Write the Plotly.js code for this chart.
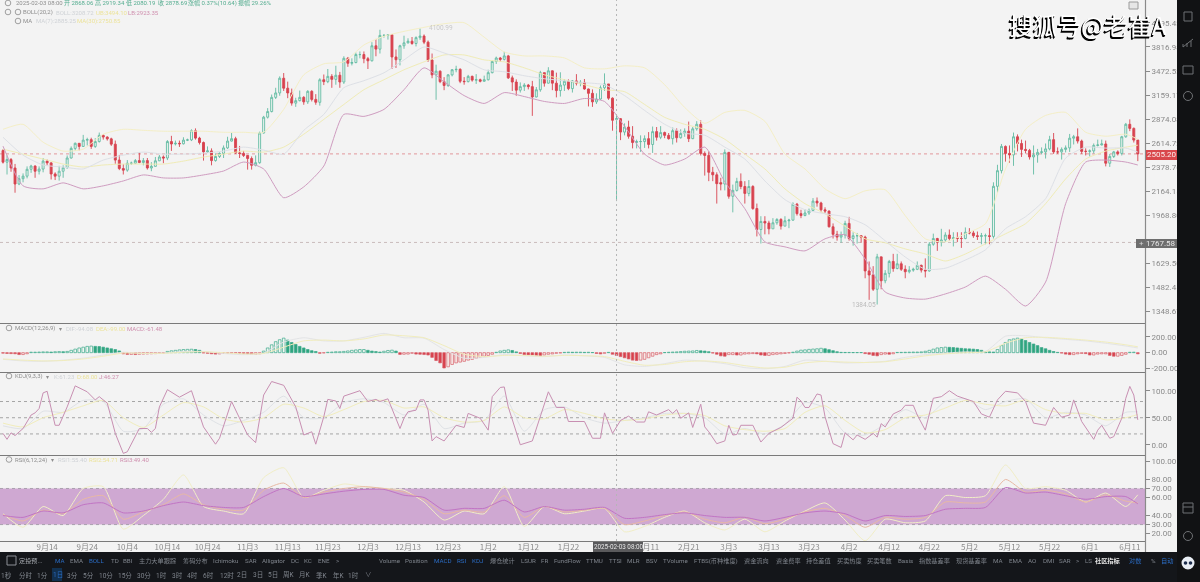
<!DOCTYPE html>
<html><head><meta charset="utf-8">
<script src="https://cdn.plot.ly/plotly-3.0.1.min.js"></script>
<style>html,body{margin:0;padding:0;background:#f3f3f3;overflow:hidden}#c{width:1200px;height:582px;filter:blur(0.3px)}</style>
</head><body><div id="c"></div><script>
const openPrice = [
2538,2425,2450,2370,2225,2272,2295,2358,2388,2340,2360,2435,2418,2315,2295,2340,2372,2465,2560,2612,2580,2645,2650,2580,2630,2695,2677,2658,
2603,2445,2365,2350,2415,2415,2440,2422,2440,2370,2385,2438,2475,2465,2630,2605,2612,2607,2645,2647,2745,2666,2620,2525,2535,2440,2480,2510,2565,2635,2660,
2515,2510,2490,2460,2395,2420,2720,2895,2960,3130,3185,3375,3245,3185,3060,3090,3130,3075,3205,3105,3070,3355,3330,3400,3360,3415,3325,3650,3580,3590,
3705,3705,3645,3615,3835,3785,3995,3995,4005,3670,3630,3835,3880,3905,3870,3960,3985,3890,3625,3420,3470,3330,3280,3420,3490,3495,3335,3330,3400,3350,3355,
3335,3355,3450,3605,3655,3635,3685,3380,3325,3220,3265,3285,3265,3135,3225,3450,3310,3475,3310,3215,3285,3335,3240,3340,3310,3320,3235,3180,3075,3110,3250,
3300,3120,2868.06,2878,2730,2785,2685,2620,2630,2630,2660,2600,2735,2675,2725,2695,2660,2745,2670,2715,2740,2660,2765,2815,2510,2490,2330,2307,
2237,2225,2520,2120,2170,2248,2203,2144,2203,2020,1860,1920,1908,1865,1910,1935,1885,1925,1930,2055,1980,1965,1985,2005,2080,2065,2010,2000,1880,1825,1805,
1820,1905,1795,1815,1815,1805,1580,1555,1470,1670,1520,1565,1640,1595,1625,1590,1575,1585,1590,1615,1585,1580,1755,1795,1770,1785,1820,1795,1800,1795,
1795,1840,1835,1815,1810,1815,1815,1810,2205,2345,2580,2510,2495,2680,2610,2550,2540,2475,2495,2520,2525,2555,2650,2525,2525,2550,2565,2665,2680,2635,2530,
2530,2535,2590,2595,2605,2415,2480,2525,2510,2680,2815,2770,2645];
const highPrice = [
2552,2490,2465,2408,2305,2320,2385,2400,2395,2385,2465,2450,2425,2330,2390,2395,2490,2580,2620,2615,2700,2670,2670,2665,2725,2705,2685,2670,
2640,2495,2405,2445,2430,2455,2520,2465,2465,2425,2475,2495,2490,2645,2690,2640,2640,2675,2660,2760,2770,2680,2630,2580,2560,2510,2520,2590,2680,2720,2680,
2585,2535,2495,2480,2490,2735,2910,3000,3165,3250,3400,3445,3330,3240,3125,3215,3145,3220,3220,3170,3375,3425,3500,3430,3545,3460,3680,3670,3650,3735,
3750,3750,3670,3890,3940,4085,4015,4010,4010,3780,3850,3990,3950,3970,3980,4105,4010,3915,3720,3560,3480,3390,3430,3500,3545,3510,3390,3420,3410,3430,3370,
3410,3490,3620,3675,3670,3745,3700,3410,3360,3320,3310,3300,3340,3260,3475,3450,3525,3480,3450,3455,3360,3360,3350,3430,3350,3365,3240,3230,3180,3280,3440,
3300,3130,2919.34,2885,2825,2855,2795,2650,2695,2695,2730,2790,2785,2795,2735,2720,2780,2770,2760,2770,2845,2785,2850,2860,2530,2530,2380,2330,
2280,2550,2525,2220,2280,2320,2250,2260,2215,2060,1960,1960,1925,1945,1945,1945,1960,1940,2070,2065,2010,2015,2020,2105,2110,2075,2030,2005,1905,1850,1845,
1925,1955,1840,1835,1820,1815,1640,1610,1690,1670,1585,1650,1690,1690,1640,1615,1610,1600,1640,1620,1660,1770,1830,1800,1865,1840,1860,1840,1840,1840,
1875,1870,1855,1845,1835,1830,1870,2240,2400,2605,2590,2590,2725,2705,2650,2640,2555,2590,2555,2570,2610,2690,2720,2570,2570,2590,2710,2700,2770,2650,2560,
2550,2610,2650,2650,2640,2505,2535,2540,2690,2830,2870,2780,2650];
const lowPrice = [
2412,2310,2335,2150,2215,2240,2275,2325,2280,2310,2330,2395,2265,2260,2255,2280,2365,2460,2535,2540,2575,2590,2555,2565,2620,2650,2640,2585,
2410,2350,2310,2335,2400,2410,2415,2395,2355,2340,2385,2435,2415,2445,2535,2590,2575,2600,2635,2635,2650,2600,2440,2515,2395,2430,2465,2465,2555,2630,2505,
2465,2475,2355,2355,2385,2410,2715,2880,2950,3110,3150,3210,3120,3030,3015,3080,3040,3050,3080,3040,3030,3285,3310,3250,3290,3250,3300,3530,3550,3580,
3650,3580,3500,3605,3680,3720,3960,3930,3500,3515,3550,3790,3870,3850,3825,3925,3860,3600,3375,3100,3310,3220,3260,3400,3455,3310,3290,3320,3330,3300,3320,
3330,3345,3440,3570,3600,3620,3365,3210,3150,3190,3210,3230,2910,3130,3200,3265,3305,3220,3130,3140,3210,3220,3190,3280,3270,3225,3020,3015,3050,3100,3210,
3100,2745,2080.19,2645,2695,2660,2560,2560,2525,2565,2560,2515,2640,2655,2665,2650,2600,2620,2660,2680,2625,2655,2745,2490,2300,2250,2250,2060,
2170,2170,2100,1990,2160,2180,2060,2120,2010,1810,1760,1825,1825,1865,1895,1860,1885,1870,1925,1965,1945,1960,1970,2000,2035,1990,1985,1875,1795,1780,1765,
1795,1780,1745,1760,1765,1535,1410,1460,1384.05,1470,1505,1540,1575,1590,1580,1535,1565,1575,1585,1570,1540,1575,1745,1710,1740,1770,1780,1740,1770,1730,
1790,1825,1800,1785,1755,1755,1755,1795,2150,2320,2430,2420,2390,2530,2475,2510,2450,2310,2420,2500,2460,2540,2505,2505,2450,2520,2525,2600,2610,2505,2490,
2480,2510,2580,2590,2385,2380,2465,2490,2490,2670,2740,2620,2435];
const closePrice = [
2425,2450,2370,2225,2272,2295,2358,2388,2340,2360,2435,2418,2315,2295,2340,2372,2465,2560,2612,2580,2645,2650,2580,2630,2695,2677,2658,2603,
2445,2365,2350,2415,2415,2440,2422,2440,2370,2385,2438,2475,2465,2630,2605,2612,2607,2645,2647,2745,2666,2620,2525,2535,2440,2480,2510,2565,2635,2660,2515,
2510,2490,2460,2395,2420,2720,2895,2960,3130,3185,3375,3245,3185,3060,3090,3130,3075,3205,3105,3070,3355,3330,3400,3360,3415,3325,3650,3580,3590,3705,
3705,3645,3615,3835,3785,3995,3995,4005,3670,3630,3835,3880,3905,3870,3960,3985,3890,3625,3420,3470,3330,3280,3420,3490,3495,3335,3330,3400,3350,3355,3335,
3355,3450,3605,3655,3635,3685,3380,3325,3220,3265,3285,3265,3135,3225,3450,3310,3475,3310,3215,3285,3335,3240,3340,3310,3320,3235,3180,3075,3110,3250,3300,
3120,2860,2878.69,2730,2785,2685,2620,2630,2630,2660,2600,2735,2675,2725,2695,2660,2745,2670,2715,2740,2660,2765,2815,2510,2490,2330,2307,2228,
2225,2520,2120,2170,2248,2203,2144,2203,2020,1860,1920,1908,1865,1910,1935,1885,1925,1930,2055,1980,1965,1985,2005,2080,2065,2010,2000,1880,1825,1805,1820,
1905,1795,1815,1815,1805,1580,1555,1470,1670,1520,1565,1640,1595,1625,1590,1575,1585,1590,1615,1585,1580,1755,1795,1770,1785,1820,1795,1800,1795,1795,
1840,1835,1815,1810,1815,1815,1810,2205,2345,2580,2510,2495,2680,2610,2550,2540,2475,2495,2520,2525,2555,2650,2525,2525,2550,2565,2665,2680,2635,2530,2530,
2535,2590,2595,2605,2415,2480,2525,2510,2680,2815,2770,2645,2505.2];
const sampleDays = [0,5,10,15,20,25,30,35,40,45,50,55,60,65,70,75,80,85,90,95,100,105,110,115,120,125,130,135,140,145,150,155,160,165,170,175,180,185,190,195,200,205,210,215,220,225,230,235,240,245,250,255,260,265,270,275,280,283];
const bollUpper = [2760,2815,2623,2533,2553,2707,2760,2749,2739,2739,2739,2728,2728,2728,2985,3421,3572,3600,3847,3982,4059,4124,4183,4200,3967,3743,3685,3685,3656,3516,3502,3544,3516,3290,3008,2826,2950,2973,2848,2503,2361,2183,2100,2166,2175,1964,1793,1772,1829,1903,2361,2760,2915,2950,2728,2686,2707,2654];
const bollMid = [2675,2493,2398,2379,2361,2445,2493,2523,2503,2503,2513,2533,2573,2543,2503,2749,2927,3252,3342,3448,3628,3817,3728,3628,3489,3462,3408,3368,3342,3316,3290,3152,2973,2815,2717,2696,2573,2455,2252,2092,2011,1979,1956,1895,1779,1669,1591,1597,1649,1717,1866,1956,2100,2464,2573,2563,2563,2523];
const bollLower = [2583,2209,2183,2235,2183,2209,2252,2306,2279,2279,2306,2342,2426,2361,2108,2200,2388,2927,2904,2985,3226,3516,3329,3152,3056,3189,3140,3080,3056,3116,3080,2793,2503,2398,2455,2573,2244,2019,1772,1737,1710,1793,1822,1656,1454,1420,1414,1443,1483,1548,1470,1376,1512,2059,2426,2445,2426,2398];
const ma30 = [2553,2503,2455,2407,2379,2398,2407,2407,2407,2435,2474,2503,2533,2523,2573,2707,2870,3044,3226,3355,3489,3600,3699,3699,3628,3600,3516,3421,3355,3290,3226,3201,3044,2893,2815,2760,2654,2503,2361,2183,2059,1979,1884,1793,1765,1723,1689,1643,1689,1758,1829,1903,2059,2270,2455,2533,2573,2593];
const macdHist = [
-6,-10,-12,-14,-24,-24,-14,6,6,8, 10,10,8,12,14,12,16,30,45,60, 70,80,84,80,78,70,60,50,40,22,
-15,-22,-22,-24,-20,-18,-16,-14,-12,-10, -6,16,24,30,36,40,42,44,40,30, -4,-8,-14,-18,-16,-10,-6,-4,-4,-8,
-12,-16,-20,-20,-14,20,60,100,140,165, 185,160,130,105,80,60,40,25,15,-8, -4,5,8,12,12,16,22,30,35,40,
40,30,20,14,8,18,28,32,20,-22, -20,-18,-8,-18,-20,-24,-30,-60,-100,-130, -195,-180,-150,-130,-120,-110,-95,-85,-70,-60,
-45,-35,-20,5,22,30,36,28,10,-10, -25,-28,-30,-35,-42,-30,-20,-16,-8,-4, 4,6,5,6,6,4,5,2,-10,-16,
-8,4,-20,-35,-50,-65,-80,-95,-100,-95, -85,-65,-45,-25,-15,2,5,8,10,14, 18,20,22,28,24,20,12,-5,-20,-40,
-45,-25,-25,-30,-30,-18,-15,-12,-15,-30, -35,-35,-25,-20,-15,-10,-4,6,20,32, 36,42,46,50,56,50,38,25,12,4,
3,3,2,2,2,-12,-20,-35,-40,-25, -18,-20,-14,3,4,5,6,8,8,10, 18,30,45,60,65,70,68,65,60,55,
50,48,45,40,30,15,10,8,40,90, 130,165,175,185,175,155,130,110,90,65, 50,30,15,4,-5,-18,-25,-25,-15,-10,
-12,-30,-30,-18,-15,-15,-35,-45,-45,-35, -20,5,6,-15];
const macdDif = [-85,-105,-110,-95,-70,-30,5,-10,-5,15,15,-10,-25,-5,135,190,150,150,195,245,190,185,40,-70,-60,-25,-40,-50,-30,-40,-60,-155,-175,-140,-95,-110,-140,-190,-205,-175,-95,-110,-130,-125,-110,-60,-25,-5,10,15,210,215,190,170,150,120,85,60];
const macdDea = [-80,-95,-105,-100,-80,-45,-5,-8,-8,5,12,0,-15,-10,70,150,160,150,175,225,215,190,90,-20,-50,-35,-35,-45,-35,-38,-50,-110,-160,-150,-115,-105,-125,-165,-195,-185,-130,-110,-120,-125,-115,-80,-40,-15,0,10,120,190,195,180,160,135,100,75];
const kdjK = [35,30,62,60,82,80,25,30,75,85,55,35,45,60,90,50,50,78,85,78,55,75,30,40,45,90,25,65,70,50,40,45,50,58,58,50,20,30,20,38,78,68,22,18,38,65,50,80,85,65,80,85,50,60,55,35,60,61];
const kdjD = [40,33,50,60,72,82,50,32,55,78,70,48,42,50,75,68,52,65,80,82,68,70,50,42,45,70,50,48,65,58,48,45,48,55,58,54,35,28,25,30,60,72,45,22,28,50,55,68,82,75,72,83,65,58,58,46,50,56];
const kdjJDays = [0,1,2,3,5,7,8,9,10,11,13,14,16,18,21,23,24,26,28,30,31,34,36,37,38,39,41,44,47,50,53,54,57,59,61,63,65,67,70,73,75,77,78,80,81,83,84,85,89,91,93,94,96,99,100,101,103,104,105,106,107,108,110,113,115,116,119,121,122,124,125,126,129,132,134,136,138,140,141,145,147,149,150,152,154,156,158,160,161,163,166,167,168,169,171,172,174,175,176,178,180,181,182,183,184,187,189,191,194,197,198,199,200,201,203,204,205,207,209,210,212,213,215,217,218,219,220,222,224,225,227,228,230,232,234,236,238,242,244,246,248,250,253,255,257,260,262,264,266,267,269,272,273,274,276,277,279,280,281,282,283];
const kdjJ = [21,10,22,17,30,55,59,67,96,99,36,36,70,109,98,83,89,77,21,-16,-13,30,30,23,30,70,102,88,100,33,1,12,80,49,18,4,92,117,110,70,18,24,1,52,84,81,67,90,100,80,84,80,85,30,49,61,64,83,83,64,7,15,7,36,32,58,49,27,89,106,107,70,0,7,52,98,69,69,43,43,12,12,59,21,45,53,42,42,61,55,65,58,65,49,59,32,75,33,24,2,7,36,18,19,36,36,5,21,32,49,88,81,69,69,94,92,52,2,-5,22,9,18,10,21,14,39,33,57,64,73,73,55,27,86,89,100,90,80,57,51,83,99,96,80,40,36,69,51,55,83,43,10,27,36,12,15,49,86,108,92,46];
const rsi6 = [42,27,50,40,70,72,25,40,58,85,50,45,42,82,93,60,68,75,72,70,68,55,35,45,42,72,28,50,42,45,48,22,28,38,45,32,24,36,22,34,45,54,35,12,36,32,34,62,60,62,96,70,72,68,55,65,50,63];
const rsi12 = [41,34,46,42,58,62,36,44,52,64,52,47,46,68,76,60,66,70,72,70,66,58,42,46,44,62,38,50,44,46,48,30,34,40,44,36,32,38,31,36,44,48,40,27,38,36,38,55,54,55,80,66,68,64,55,63,56,54];
const rsi24 = [40,38,45,43,52,54,43,45,51,55,51,49,49,61,70,61,64,67,69,69,62.5,60,46,48,48,57,44,50,46,47,49,37,38,41,43,40,38,38,34,38,43,45,42,34,40,39,40,47,48,49,71,65,66,62,58,61,61,53];
const xTickDates = ['2024-09-14','2024-09-24','2024-10-04','2024-10-14','2024-10-24','2024-11-03','2024-11-13','2024-11-23','2024-12-03','2024-12-13','2024-12-23','2025-01-02','2025-01-12','2025-01-22','2025-02-11','2025-02-21','2025-03-03','2025-03-13','2025-03-23','2025-04-02','2025-04-12','2025-04-22','2025-05-02','2025-05-12','2025-05-22','2025-06-01','2025-06-11'];
const xTickText = ['9月14','9月24','10月4','10月14','10月24','11月3','11月13','11月23','12月3','12月13','12月23','1月2','1月12','1月22','2月11','2月21','3月3','3月13','3月23','4月2','4月12','4月22','5月2','5月12','5月22','6月1','6月11'];
const priceTicks = [4195.43,3816.98,3472.53,3159.17,2874.08,2614.72,2378.76,2164.15,1968.80,1629.50,1482.45,1348.67];
const macdTicks = [200,0,-200];
const kdjTicks = [100,50,0];
const rsiTicks = [100,80,70,60,40,30,20];
const lastPrice = 2505.20, crossPrice = 1767.58;

const dates = closePrice.map((_, i) => new Date(Date.UTC(2024, 8, 3 + i)).toISOString().slice(0, 10));
const at = days => days.map(d => dates[d]);
const sx = at(sampleDays);

const W = 1200, H = 582, AX = 1145;
const px = x => x / W, py = y => 1 - y / H;
const FONT = 'Roboto, "Noto Sans CJK SC", sans-serif';
const cjk = '"Noto Sans CJK SC", Roboto, sans-serif';

function ln(x, y, yaxis, color) {
  return {type:'scatter', mode:'lines', x, y, yaxis, hoverinfo:'skip', line:{color, width:1}};
}
function sl(x, y, yaxis, color) {
  return {type:'scatter', mode:'lines', x, y, yaxis, hoverinfo:'skip',
    line:{color, width:1, shape:'spline', smoothing:0.6}};
}
const histFill = macdHist.map((v,i) => {
  const rising = i > 0 && v >= macdHist[i-1];
  if (v >= 0) return rising ? '#f1f5f2' : '#2fa57f';
  return rising ? '#f6e9e6' : '#d8404c';
});
const histLine = macdHist.map(v => v >= 0 ? '#3aa98a' : '#d8606a');

const traces = [
  sl(sx, bollUpper, 'y', '#f3efc6'),
  sl(sx, ma30, 'y', '#f0ecb6'),
  sl(sx, bollMid, 'y', '#dde0e6'),
  sl(sx, bollLower, 'y', '#cf9cc0'),
  {type:'candlestick', x:dates, open:openPrice, high:highPrice, low:lowPrice, close:closePrice,
   yaxis:'y', hoverinfo:'skip', whiskerwidth:0,
   increasing:{line:{color:'#62bba3', width:0.9}, fillcolor:'#f2f6f3'},
   decreasing:{line:{color:'#d8434f', width:0.9}, fillcolor:'#d8434f'}},
  {type:'bar', x:dates, y:macdHist, yaxis:'y2', hoverinfo:'skip', width:0.66*86400000,
   marker:{color:histFill, line:{color:histLine, width:0.7}}},
  sl(sx, macdDif, 'y2', '#e3e4e6'),
  sl(sx, macdDea, 'y2', '#f1edbc'),
  sl(sx, kdjK, 'y3', '#dfe2e6'),
  sl(sx, kdjD, 'y3', '#f1edbc'),
  ln(at(kdjJDays), kdjJ, 'y3', '#c88fb2'),
  sl(sx, rsi6, 'y4', '#f1eec6'),
  sl(sx, rsi12, 'y4', '#e8b9a4'),
  sl(sx, rsi24, 'y4', '#c174c4'),
];

const shapes = [];
const DASH = '3px,3px';
const hLine = (yval, yref, color) => shapes.push({type:'line', xref:'paper', yref, x0:0, x1:px(AX), y0:yval, y1:yval, layer:'below', line:{color, width:1, dash:DASH}});
const pLine = (x0,y0,x1,y1,color,w) => shapes.push({type:'line', xref:'paper', yref:'paper', x0:px(x0), y0:py(y0), x1:px(x1), y1:py(y1), layer:'above', line:{color, width:w||1}});
const pRect = (x0,y0,x1,y1,fill,line) => shapes.push({type:'rect', xref:'paper', yref:'paper', x0:px(x0), y0:py(y0), x1:px(x1), y1:py(y1), layer:'above', fillcolor:fill||'rgba(0,0,0,0)', line:{color:line||'rgba(0,0,0,0)', width:line?1:0}});
const pCirc = (cx,cy,r,fill,line) => shapes.push({type:'circle', xref:'paper', yref:'paper', x0:px(cx-r), y0:py(cy-r), x1:px(cx+r), y1:py(cy+r), layer:'above', fillcolor:fill||'rgba(0,0,0,0)', line:{color:line||'rgba(0,0,0,0)', width:line?1:0}});

shapes.push({type:'rect', xref:'paper', yref:'y4', x0:0, x1:px(AX), y0:30, y1:70, layer:'below', fillcolor:'#cfa8d2', line:{width:0}});
hLine(70,'y4','#a9a0ad'); hLine(30,'y4','#a9a0ad');
hLine(80,'y3','#a5a5a5'); hLine(50,'y3','#a5a5a5'); hLine(20,'y3','#a5a5a5');
hLine(lastPrice,'y','#e2979b'); hLine(crossPrice,'y','#c9bcbc');
shapes.push({type:'line', xref:'x', yref:'paper', x0:'2025-02-03', x1:'2025-02-03', y0:py(541), y1:1, layer:'above', line:{color:'#b5b5b5', width:1, dash:'2px,3px'}});
[323.5,372.5,455.5,541.5].forEach(y => pLine(0,y,AX,y,'#7a7a7a',1.2));
pLine(AX+0.5,0,AX+0.5,552,'#8a8a8a',1.2);
pRect(0,552,1200,582,'#14161a');
pRect(1177,0,1200,582,'#111214');
pRect(1146,150,1177,160,'#d9484c');
pRect(1136,239,1177,248,'#6e6e6e');
pRect(593,542,643,552,'#5a5a5c');
pRect(52,568,62,581,'#12304f');
pRect(1129,2,1138,9,'#e6e6e6','#9a9a9a');
[[8,3],[8,12],[18,12],[18,21],[9,328],[9,376],[9,459.5]].forEach(c => pCirc(c[0],c[1],2.8,null,'#a0a0a0'));
const IC = '#6f7174';
pRect(1184,12,1192,21,null,IC);
pRect(1183,66,1193,74,null,IC);
pCirc(1188,96,4.5,null,IC);
pLine(1183,47,1193,39,IC); pLine(1183,47,1183,44,IC); pLine(1187,47,1187,43,IC); pLine(1191,47,1191,41,IC);
pRect(1183,503,1193,513,null,IC); pLine(1183,507,1193,507,IC);
pCirc(1188,536,4.5,null,IC);
pCirc(1188,563,6.5,'#e9eef5');
pCirc(1185.5,563,1.8,'#1c2c4c'); pCirc(1190.5,563,1.8,'#1c2c4c');
pRect(7,556,16,565,null,'#8c8f96');

const ann = [];
const T = (x,y,text,color,size,anchor,extra) => ann.push(Object.assign({xref:'paper', yref:'paper', x:px(x), y:py(y), text, showarrow:false, xanchor:anchor||'left', yanchor:'middle', borderpad:0, font:{family:FONT, size:size||6, color}}, extra||{}));
const G='#8f8f8f', P='#cfd2d6', Y='#ece39a', M='#cf8fae', Gn='#55ad90';
T(15,3,'2025-02-03 08:00',G);
T(63,3,'开 2868.06',Gn); T(94,3,'高 2919.34',Gn); T(125,3,'低 2080.19',Gn); T(157,3,'收 2878.69',Gn); T(187,3,'涨幅 0.37%(10.64)',Gn); T(237,3,'振幅 29.26%',Gn);
T(22,12,'BOLL(20,2)',G); T(55,12,'BOLL:3208.72',P); T(95,12,'UB:3494.10',Y); T(127,12,'LB:2923.35',M);
T(22,21,'MA',G); T(35,21,'MA(7):2885.25',P); T(76,21,'MA(30):2750.85',Y);
T(14,328,'MACD(12,26,9)',G); T(58,328,'▾',G); T(65,328,'DIF:-94.08',P); T(95,328,'DEA:-99.00',Y); T(126,328,'MACD:-61.48',M);
T(14,376,'KDJ(9,3,3)',G); T(45,376,'▾',G); T(53,376,'K:61.23',P); T(76,376,'D:68.00',Y); T(98,376,'J:46.27',M);
T(14,459.5,'RSI(6,12,24)',G); T(50,459.5,'▾',G); T(57,459.5,'RSI1:55.40',P); T(88,459.5,'RSI2:54.71',Y); T(119,459.5,'RSI3:49.40',M);
T(428,28,'4100.99','#c9c9c9',6.5); T(851,305,'1384.05','#b9b9b9',6.5);
T(1161.5,155,'2505.20','#fbeeee',8,'center');
T(1161,243.5,'1767.58','#e6e6e6',8,'center'); T(1141,243.5,'+','#d5d5d5',8,'center');
T(618,547,'2025-02-03 08:00','#e6e6e6',6.3,'center');
T(1008,25,'搜狐号@老崔A','#ffffff',24,'left',{font:{family:cjk, size:24, color:'#ffffff', shadow:'-1.5px 1.5px 0 #000, -1px 0.5px 0 #000'}});

const D='#7f848c', B='#2b6cc4';
[[18,'定投预...','#a9adb3'],[54,'MA',B],[69,'EMA',D],[88,'BOLL',B],[110,'TD',D],[122,'BBI',D],[138,'主力大单跟踪',D],[182,'筹码分布',D],[212,'Ichimoku',D],[244,'SAR',D],[261,'Alligator',D],[290,'DC',D],[303,'KC',D],[317,'ENE',D],[335,'>',D],[378,'Volume',D],[404,'Position',D],[433,'MACD',B],[456,'RSI',B],[471,'KDJ',B],[489,'爆仓统计',D],[520,'LSUR',D],[540,'FR',D],[553,'FundFlow',D],[585,'TTMU',D],[608,'TTSI',D],[626,'MLR',D],[645,'BSV',D],[662,'TVolume',D],[693,'FTBS(币种维度)',D],[743,'资金流向',D],[775,'资金费率',D],[805,'持仓差值',D],[836,'买卖热度',D],[866,'买卖笔数',D],[897,'Basis',D],[918,'指数基差率',D],[955,'现货基差率',D],[992,'MA',D],[1008,'EMA',D],[1027,'AO',D],[1042,'DMI',D],[1058,'SAR',D],[1075,'>',D],[1084,'LS',D],[1094,'社区指标','#e8e8e8'],[1128,'对数',B],[1150,'%',D],[1160,'自动',B]]
 .forEach(r => T(r[0],560.5,r[2]==='#e8e8e8'?'<b>'+r[1]+'</b>':r[1],r[2],6.2));
[[0,'1秒',D],[18,'分时',D],[36,'1分',D],[52,'1日',B],[66,'3分',D],[82,'5分',D],[98,'10分',D],[117,'15分',D],[136,'30分',D],[155,'1时',D],[171,'3时',D],[186,'4时',D],[202,'6时',D],[219,'12时',D],[236,'2日',D],[252,'3日',D],[267,'5日',D],[282,'周K',D],[298,'月K',D],[315,'季K',D],[332,'年K',D],[347,'1时',D],[364,'∨',D]]
 .forEach(r => T(r[0],575,r[1],r[2],6.5));

const yBase = {side:'right', anchor:'x', showgrid:false, zeroline:false, showline:false, ticks:'outside', ticklen:4, tickcolor:'#8a8a8a', tickwidth:1,
  tickfont:{family:FONT, size:8, color:'#8a8a8a'}, fixedrange:true};
const fmt = a => a.map(v => v.toFixed(2));
const layout = {
  width:W, height:H, margin:{l:0,r:0,t:0,b:0}, paper_bgcolor:'#f3f3f3', plot_bgcolor:'#f3f3f3',
  showlegend:false, barmode:'overlay', dragmode:false, hovermode:false, font:{family:FONT},
  xaxis:{type:'date', domain:[0,px(AX)], anchor:'y4', range:['2024-09-02 06:00','2025-06-14 19:00'], rangeslider:{visible:false},
    showgrid:false, zeroline:false, showline:false, ticks:'', tickmode:'array', tickvals:xTickDates, ticktext:xTickText,
    tickangle:0, tickfont:{family:cjk, size:8, color:'#8a8a8a'}, fixedrange:true},
  yaxis:Object.assign({}, yBase, {type:'log', domain:[py(323),1], range:[Math.log10(1287),Math.log10(4593)], tickmode:'array', tickvals:priceTicks, ticktext:fmt(priceTicks)}),
  yaxis2:Object.assign({}, yBase, {domain:[py(372),py(324)], range:[-246,365], tickmode:'array', tickvals:macdTicks, ticktext:fmt(macdTicks)}),
  yaxis3:Object.assign({}, yBase, {domain:[py(455),py(373)], range:[-19,132.8], tickmode:'array', tickvals:kdjTicks, ticktext:fmt(kdjTicks)}),
  yaxis4:Object.assign({}, yBase, {domain:[py(541),py(456)], range:[11.8,106], tickmode:'array', tickvals:rsiTicks, ticktext:fmt(rsiTicks)}),
  shapes, annotations:ann
};
Plotly.newPlot('c', traces, layout, {displayModeBar:false, staticPlot:true});
</script></body></html>
